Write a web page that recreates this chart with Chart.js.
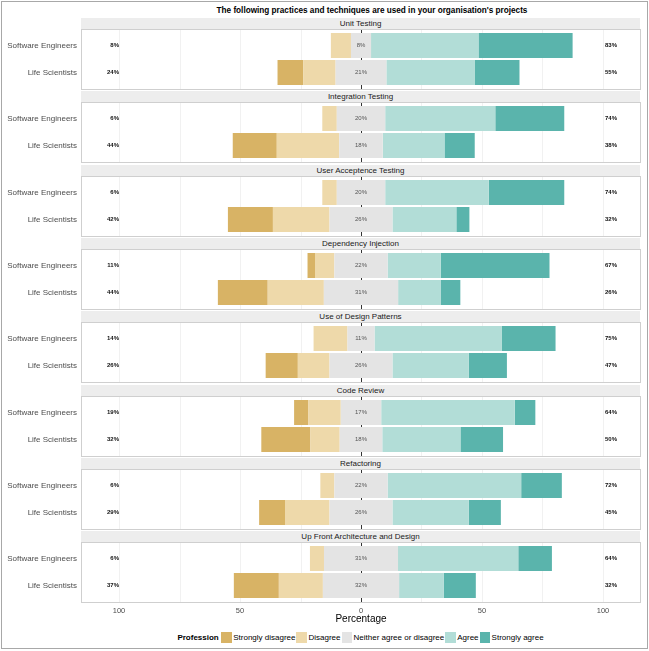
<!DOCTYPE html>
<html><head><meta charset="utf-8">
<script src="https://cdn.jsdelivr.net/npm/chart.js@4.4.1/dist/chart.umd.min.js"></script>
<style>
html,body{margin:0;padding:0;background:#fff;}
#wrap{position:relative;width:649px;height:651px;overflow:hidden;font-family:"Liberation Sans",Arial,sans-serif;}
#frame{position:absolute;left:1px;top:1px;width:645px;height:646px;border:1px solid #a8a8a8;}
#title{position:absolute;left:0;width:744px;top:5px;text-align:center;font-weight:bold;font-size:8.2px;line-height:12px;color:#000;}
.strip{position:absolute;left:81px;width:559px;height:11.5px;background:#ededed;font-size:8px;line-height:11.5px;text-align:center;color:#1a1a1a;}
.cv{position:absolute;left:0;}
#legend{position:absolute;top:632px;left:0;width:722px;height:11px;display:flex;justify-content:center;align-items:center;font-size:8px;color:#000;}
.lt{font-weight:bold;margin-right:2.5px;}
.sw{display:inline-block;width:10.5px;height:10.5px;}
.lx{margin:0 1px 0 1.5px;}
</style></head>
<body><div id="wrap"><div id="frame"></div>
<div id="title">The following practices and techniques are used in your organisation's projects</div>
<div id="legend"></div>
</div>
<script>
// ---- data (percentages) ----
const questions = ['Unit Testing','Integration Testing','User Acceptence Testing','Dependency Injection','Use of Design Patterns','Code Review','Refactoring','Up Front Architecture and Design'];
const professions = ['Software Engineers','Life Scientists'];
const levels = ['Strongly disagree','Disagree','Neither agree or disagree','Agree','Strongly agree'];
// each entry: [Software Engineers, Life Scientists]
const stronglyDisagree = [[0,10.6],[0,18.2],[0,18.6],[3.1,20.6],[0,13.3],[5.8,20.3],[0,10.7],[0,18.6]];
const disagree         = [[8.3,13.4],[6,25.8],[6,23.4],[8.0,23.2],[14,13.1],[13.5,12.1],[5.8,18.4],[5.8,18.2]];
const neutral          = [[8.3,21],[20,18],[20,26],[22,30.7],[11.2,26],[16.7,17.6],[22,26],[30.6,31.5]];
const agree            = [[44.4,36.6],[45.5,25.5],[42.8,26.4],[22,17.7],[52.5,31.5],[55.2,32.3],[55.2,31.5],[49.7,18.4]];
const stronglyAgree    = [[38.9,18.4],[28.5,12.5],[31.2,5.4],[44.9,8.0],[22.3,15.8],[8.5,17.6],[16.8,13.3],[13.9,13.3]];
const xTicks = [-100,-50,0,50,100];
const gridValues = [-100,-75,-50,-25,25,50,75,100];

// ---- styles ----
const colors = ['#d8b365','#eed9aa','#e4e4e4','#b2ddd7','#5ab4ac'];
const FAMILY = '"Liberation Sans", Arial, sans-serif';
Chart.defaults.font.family = FAMILY;

const wrap = document.getElementById('wrap');
const lg = document.getElementById('legend');
lg.innerHTML = '<span class="lt">Profession</span>' + levels.map((l,i)=>
  '<span class="sw" style="background:'+colors[i]+'"></span><span class="lx">'+l+'</span>').join('');

const nz = v => v === 0 ? null : v;

const facetPlugin = {
  id:'facet',
  beforeDatasetsDraw(chart){
    const {ctx, chartArea:a, scales:{x}} = chart;
    const top = a.top - 3, bot = a.bottom + 4;
    ctx.save();
    ctx.strokeStyle = '#f1f1f1'; ctx.lineWidth = 1;
    gridValues.forEach(v=>{ const px = Math.round(x.getPixelForValue(v))+0.5; ctx.beginPath(); ctx.moveTo(px,top); ctx.lineTo(px,bot); ctx.stroke(); });
    ctx.strokeStyle = '#333'; ctx.lineWidth = 1;
    const z = Math.round(x.getPixelForValue(0))+0.5;
    ctx.beginPath(); ctx.moveTo(z,top); ctx.lineTo(z,bot); ctx.stroke();
    ctx.restore();
  },
  afterDatasetsDraw(chart){
    const {ctx, chartArea:a, scales:{x,y}} = chart;
    const q = chart.options.plugins.facet.q;
    ctx.save();
    ctx.textBaseline = 'middle';
    professions.forEach((p,i)=>{
      const py = y.getPixelForValue(i);
      const left = Math.round(stronglyDisagree[q][i] + disagree[q][i]);
      const mid = Math.round(neutral[q][i]);
      const right = Math.round(agree[q][i] + stronglyAgree[q][i]);
      ctx.font = 'bold 6px ' + FAMILY; ctx.fillStyle = '#111';
      ctx.textAlign = 'right'; ctx.fillText(left + '%', x.getPixelForValue(-100), py);
      ctx.textAlign = 'left'; ctx.fillText(right + '%', x.getPixelForValue(100) + 2, py);
      ctx.font = '6px ' + FAMILY; ctx.fillStyle = '#555';
      ctx.textAlign = 'center'; ctx.fillText(mid + '%', x.getPixelForValue(0), py);
    });
    ctx.strokeStyle = '#cfcfcf'; ctx.lineWidth = 1;
    ctx.strokeRect(Math.round(a.left)-0.5, a.top - 3 + 0.5, Math.round(a.right - a.left)+1, a.bottom - a.top + 6);
    ctx.restore();
  }
};

questions.forEach((qName, q)=>{
  const last = q === questions.length - 1;
  const top = Math.round(29 + 73.3*q);
  const strip = document.createElement('div');
  strip.className = 'strip'; strip.style.top = (top - 11.5) + 'px'; strip.textContent = qName;
  wrap.appendChild(strip);
  const h = last ? 95 : 61;
  const cv = document.createElement('canvas');
  cv.className = 'cv'; cv.width = 649; cv.height = h; cv.style.width = '649px'; cv.style.height = h + 'px'; cv.style.top = top + 'px';
  wrap.appendChild(cv);
  const idx = [0,1];
  const datasets = [
    {label:levels[2], data: idx.map(i=>nz(-neutral[q][i]/2)), backgroundColor: colors[2]},
    {label:levels[2], data: idx.map(i=>nz(neutral[q][i]/2)), backgroundColor: colors[2]},
    {label:levels[1], data: idx.map(i=>nz(-disagree[q][i])), backgroundColor: colors[1]},
    {label:levels[0], data: idx.map(i=>nz(-stronglyDisagree[q][i])), backgroundColor: colors[0]},
    {label:levels[3], data: idx.map(i=>nz(agree[q][i])), backgroundColor: colors[3]},
    {label:levels[4], data: idx.map(i=>nz(stronglyAgree[q][i])), backgroundColor: colors[4]}
  ].map(d=>Object.assign(d,{stack:'s', borderWidth:0, barPercentage:25/27, categoryPercentage:1}));
  const xScale = {type:'linear', stacked:true, min:-115.3, max:115.3, display:last,
     grid:{display:false, drawTicks:false}, border:{display:false},
     afterBuildTicks: s => { s.ticks = xTicks.map(v=>({value:v})); },
     ticks:{callback: v => Math.abs(v), color:'#4d4d4d', font:{size:7.5}, padding:7, maxRotation:0, autoSkip:false},
     title:{display:true, text:'Percentage', color:'#000', font:{size:10}, padding:{top:0, bottom:11.5}}};
  if (last) xScale.afterFit = s => { s.height = 38; s.paddingLeft = 0; s.paddingRight = 0; };
  new Chart(cv, {
    type:'bar',
    data:{labels: professions, datasets},
    plugins:[facetPlugin],
    options:{
      indexAxis:'y', responsive:false, animation:false,
      layout:{padding:{top:3, bottom: last ? 0 : 4, left:0, right:9}},
      plugins:{legend:{display:false}, tooltip:{enabled:false}, facet:{q}},
      scales:{
        x: xScale,
        y:{type:'category', stacked:true, grid:{display:false, drawTicks:false}, border:{display:false},
           ticks:{color:'#4d4d4d', font:{size:8}, padding:5},
           afterFit: s => { s.width = 82; s.paddingTop = 0; s.paddingBottom = 0; }}
      }
    }
  });
});
</script>
</body></html>
